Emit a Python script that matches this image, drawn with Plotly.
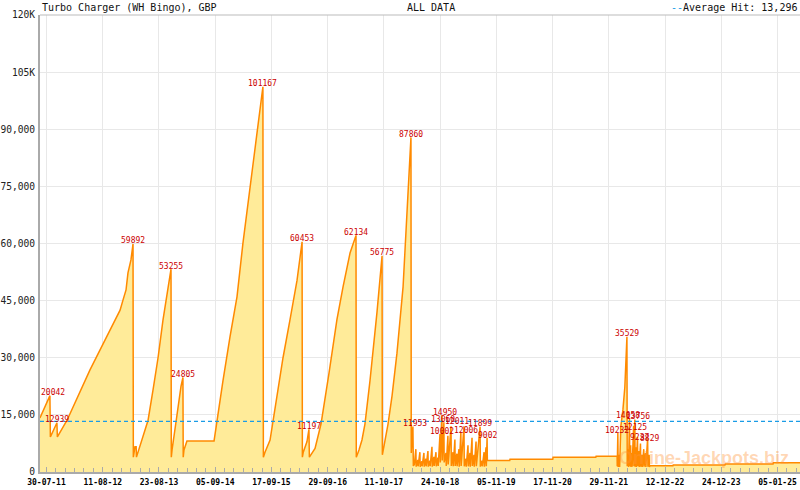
import numpy as np
import pandas as pd
import plotly.graph_objects as go

# ---------------- data ----------------
launch = pd.Timestamp("2011-07-30")          # first x tick (30-07-11)

# days after 30-07-11 and jackpot value in GBP
day = [
    -44, 23, 26, 70, 73, 138, 292, 494, 514, 534, 547, 567, 581,
    583, 594, 602, 604, 648, 682, 715, 749, 782, 816, 836,
    838, 843, 869, 890, 903, 916,
    918, 923, 943, 1125,
    1145, 1185, 1232, 1279, 1319, 1366, 1413, 1453,
    1456, 1467, 1501, 1521, 1554, 1588, 1635, 1682, 1716,
    1718, 1724, 1749, 1762, 1765, 1803, 1843, 1897, 1950, 1991, 2038, 2078,
    2080, 2098, 2118, 2138, 2172, 2219, 2239, 2253,
    2255, 2273, 2293, 2320, 2353, 2394, 2427, 2447,
    2449, 2460, 2463,
    2470, 2480, 2482, 2493, 2495, 2507, 2509, 2520, 2522, 2534, 2536, 2547,
    2549, 2561, 2563, 2574, 2576, 2588, 2590, 2601, 2603, 2615, 2617, 2628,
    2630, 2642, 2644, 2655, 2657, 2668, 2670, 2682, 2684, 2695, 2697, 2716,
    2718, 2729, 2731, 2742, 2744, 2755, 2757, 2769, 2771, 2782, 2784, 2803,
    2805, 2816, 2818, 2830, 2832, 2843, 2845, 2857, 2859, 2870, 2872, 2884,
    2886, 2911, 2913, 2924, 2926, 2938, 2940, 2951, 2953, 2958,
    2960, 3110, 3112, 3399, 3401, 3688, 3690, 3831,
    3832, 3836, 3838, 3846, 3848, 3856, 3870, 3883, 3897, 3899, 3906, 3908,
    3914, 3916, 3922, 3924, 3930, 3932, 3942, 3944, 3950, 3952, 3958, 3960,
    3968, 3970, 3978, 3980, 3988, 3990, 3998, 4000, 4010, 4012, 4022, 4024,
    4036, 4038, 4046, 4048, 4052,
    4206, 4208, 4555, 4557, 4878, 4880, 5062,
]
value = [
    14200, 20042, 9200, 12939, 9200, 13600, 26800, 42500, 45200, 47800, 52300, 55700, 59892,
    3900, 6600, 6600, 3900, 9200, 13600, 21500, 30000, 39900, 48600, 53255,
    3900, 5800, 13000, 19500, 22500, 24805,
    3900, 5800, 8150, 8150,
    13600, 24000, 35500, 46000, 60100, 74800, 89000, 101167,
    3900, 5200, 8400, 13600, 21000, 30000, 40000, 50300, 60453,
    3900, 5200, 8000, 11197, 3900, 6200, 12600, 26000, 40000, 48600, 57500, 62134,
    3900, 5800, 8400, 12600, 24000, 42000, 52000, 56775,
    4500, 8400, 12600, 20000, 31200, 48600, 74800, 87860,
    5000, 11953, 1600,
    2000, 6000, 1400, 3200, 1500, 5200, 1400, 2800, 1500, 5000, 1400, 3500,
    1500, 5500, 1400, 3000, 1500, 6600, 1400, 4000, 1600, 5200, 1500, 3800,
    1600, 10002, 2500, 14950, 3000, 13060, 2500, 5000, 1600, 9500, 2000, 12011,
    1600, 5200, 1500, 8500, 1600, 4800, 1500, 6000, 1400, 10500, 1600, 12006,
    1500, 3500, 1400, 7000, 1500, 5000, 1400, 9000, 1600, 4500, 1400, 8000,
    1500, 11899, 1400, 3000, 1500, 5200, 1400, 6500, 1500, 9002,
    3000, 3000, 3330, 3330, 3860, 3860, 4120, 4120,
    1500, 10232, 1300, 4500, 1300, 12000, 16300, 22300, 35529, 1500, 6000, 1300,
    14058, 1500, 7000, 1300, 5000, 1400, 12125, 1500, 13756, 1400, 6500, 1300,
    9237, 1500, 5500, 1300, 7500, 1400, 4500, 1300, 6000, 1400, 5000, 1300,
    8829, 1400, 4500, 1300, 1650,
    1650, 1840, 1840, 2100, 2100, 2440, 2440,
]

# labelled hits (values shown in red)
hit_labels = [20042, 12939, 59892, 53255, 24805, 101167, 60453, 11197, 62134,
              56775, 87860, 11953, 14950, 13060, 12011, 10002, 12006, 11899,
              9002, 10232, 35529, 14058, 13756, 12125, 9237, 8829]

average_hit = 13296

tick_dates = ["2011-07-30", "2012-08-11", "2013-08-23", "2014-09-05", "2015-09-17",
              "2016-09-29", "2017-10-11", "2018-10-24", "2019-11-05", "2020-11-17",
              "2021-11-29", "2022-12-12", "2023-12-24", "2025-01-05"]
tick_text = ["30-07-11", "11-08-12", "23-08-13", "05-09-14", "17-09-15", "29-09-16",
             "11-10-17", "24-10-18", "05-11-19", "17-11-20", "29-11-21", "12-12-22",
             "24-12-23", "05-01-25"]

y_ticks = [0, 15000, 30000, 45000, 60000, 75000, 90000, 105000, 120000]
y_text = ["0", "15,000", "30,000", "45,000", "60,000", "75,000", "90,000", "105K", "120K"]

# ---------------- figure ----------------
dates = launch + pd.to_timedelta(day, unit="D")
x_start = launch + pd.to_timedelta(-43.6, unit="D")
x_end = launch + pd.to_timedelta(5059, unit="D")

MONO = "DejaVu Sans Mono"
fig = go.Figure()

fig.add_trace(go.Scatter(
    x=dates, y=value, mode="lines", fill="tozeroy",
    fillcolor="#FFEB99", line=dict(color="#FF8A00", width=1.5),
    hoverinfo="skip", showlegend=False))

fig.add_trace(go.Scatter(
    x=[x_start, x_end], y=[average_hit, average_hit], mode="lines",
    line=dict(color="#1A9CE6", width=1.4, dash="4px,3px"),
    hoverinfo="skip", showlegend=False))

# label shifts (pixels) to mimic overlap placement
shift = {20042: (3, 0), 11953: (2, 0), 14950: (3, 0), 13060: (-1, 0),
         10002: (2, -1), 12011: (6, 2), 12006: (2, -7), 11899: (0, 0),
         9002: (0, -1), 10232: (-1, 0), 14058: (-1, 0), 13756: (3, 0),
         12125: (1, -5), 9237: (2, -4), 8829: (2, -3)}

annotations = []
for v in hit_labels:
    i = value.index(v)
    dx, dy = shift.get(v, (0, 0))
    annotations.append(dict(
        x=dates[i], y=v, xref="x", yref="y", text=str(v), showarrow=False,
        xanchor="center", yanchor="middle", xshift=dx, yshift=3 + dy,
        font=dict(family=MONO, size=8, color="#CC0000")))

annotations += [
    dict(x=0, y=1.0175, xref="paper", yref="paper", text="Turbo Charger (WH Bingo), GBP",
         showarrow=False, xanchor="left", yanchor="middle",
         font=dict(family=MONO, size=10, color="#111111")),
    dict(x=(405 - 40) / 760, y=1.0175, xref="paper", yref="paper", text="ALL DATA",
         showarrow=False, xanchor="left", yanchor="middle",
         font=dict(family=MONO, size=10, color="#111111")),
    dict(x=0.9985, y=1.0175, xref="paper", yref="paper",
         text="<span style='color:#1A9CE6'>--</span>Average Hit: 13,296",
         showarrow=False, xanchor="right", yanchor="middle",
         font=dict(family=MONO, size=10, color="#111111")),
    dict(x=(704 - 40) / 760, y=(472 - 458) / 457, xref="paper", yref="paper",
         text="<b>Online-Jackpots.biz</b>", showarrow=False,
         xanchor="center", yanchor="middle",
         font=dict(family="Liberation Sans", size=18, color="rgba(255,150,60,0.38)")),
]

minor_vals = launch + pd.to_timedelta(np.arange(0, 5059, 377.54 / 6), unit="D")

fig.update_layout(
    width=800, height=490,
    margin=dict(l=40, r=0, t=15, b=18, autoexpand=False),
    paper_bgcolor="white", plot_bgcolor="white",
    annotations=annotations,
    shapes=[dict(type="line", xref="paper", yref="paper", x0=0, x1=1, y0=1, y1=1,
                 line=dict(color="#BBBBBB", width=1))],
    xaxis=dict(
        type="date", range=[x_start, x_end], automargin=False,
        tickmode="array", tickvals=pd.to_datetime(tick_dates), ticktext=tick_text,
        ticks="inside", ticklen=5, tickcolor="#AAAAAA", tickwidth=1,
        showgrid=True, gridcolor="#E8E8E8", gridwidth=1,
        showline=True, linecolor="#AAAAAA", linewidth=2,
        tickfont=dict(family=MONO, size=8, color="#000000", weight="bold"),
        ticklabelstandoff=1,
        minor=dict(tickmode="array", tickvals=minor_vals, ticks="inside",
                   ticklen=4, tickcolor="#AAAAAA", showgrid=False),
        zeroline=False, fixedrange=True,
    ),
    yaxis=dict(
        range=[0, 120000], tickmode="array", tickvals=y_ticks, ticktext=y_text,
        automargin=False,
        showgrid=True, gridcolor="#E8E8E8", gridwidth=1,
        showline=True, linecolor="#AAAAAA", linewidth=2,
        ticks="", zeroline=False, ticklabelstandoff=1,
        tickfont=dict(family=MONO, size=9.6, color="#222222"),
        fixedrange=True,
    ),
)

fig.write_html(
    "out.html",
    config={"displayModeBar": False},
    post_script="document.body.style.margin='0px';document.body.style.padding='0px';",
)
